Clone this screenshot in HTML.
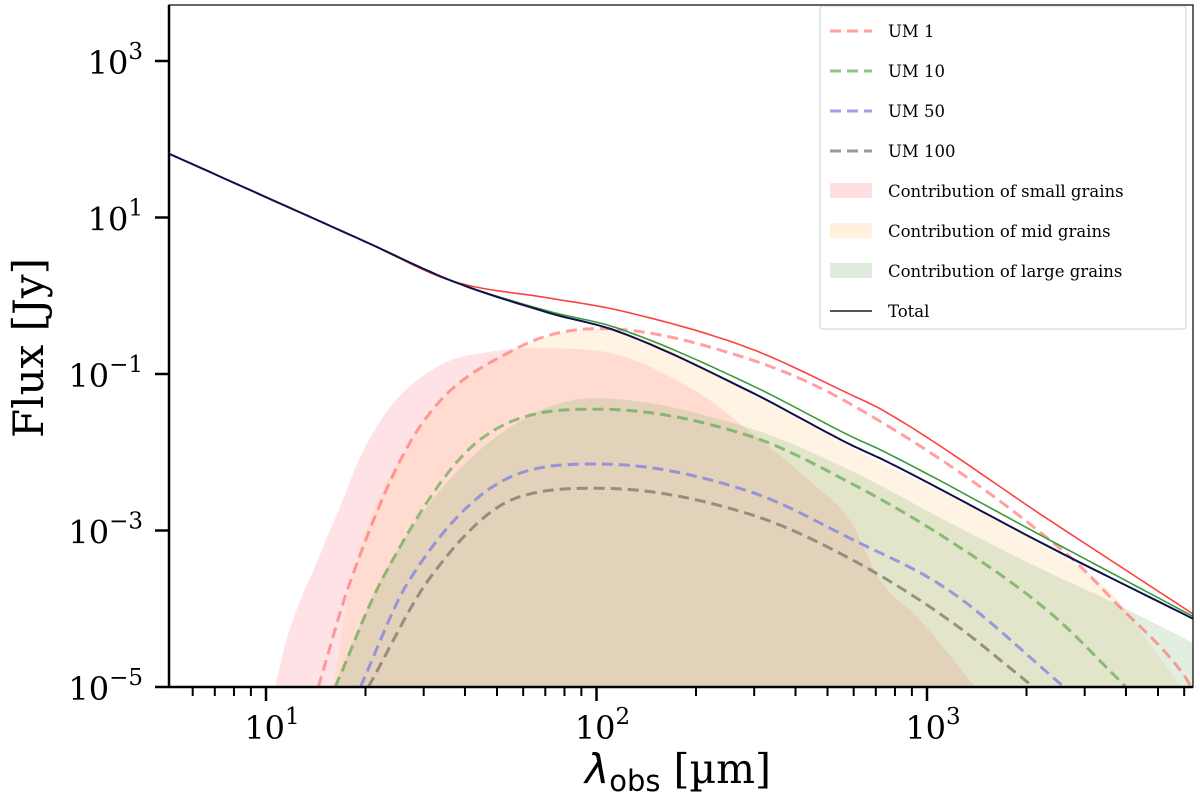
<!DOCTYPE html>
<html><head><meta charset="utf-8">
<style>
html,body{margin:0;padding:0;background:#fff;}
svg{display:block;font-family:"DejaVu Serif","Liberation Serif",serif;}
</style></head>
<body>
<svg id="chart" width="1200" height="802" viewBox="0 0 1200 802" xmlns="http://www.w3.org/2000/svg">
<defs><clipPath id="clip"><rect x="169" y="5" width="1024" height="682"/></clipPath></defs>
<g id="fills" clip-path="url(#clip)"></g>
<g id="lines" clip-path="url(#clip)"></g>
<g id="axes"></g>
<g id="legend"></g>
</svg>
<script>
// wavelengths (µm) and log10 flux (Jy)
const totalLam = [5, 10, 20, 36.5, 72, 115, 290, 585, 740, 2370, 6400];
const totalUM100 = [1.83, 1.26, 0.69, 0.19, -0.22, -0.45, -1.22, -1.90, -2.10, -3.22, -4.13];
const totalUM1 = [1.83, 1.26, 0.69, 0.19, -0.03, -0.18, -0.67, -1.26, -1.47, -2.88, -4.07];
const totalUM10 = [1.83, 1.26, 0.69, 0.19, -0.20, -0.41, -1.13, -1.79, -1.99, -3.13, -4.10];

const um1Lam = [14.4, 18, 28.6, 57.5, 102, 290, 585, 2630, 3740, 5950, 6300];
const um1Val = [-5, -3.65, -1.73, -0.67, -0.42, -0.81, -1.38, -3.29, -3.93, -4.83, -5];
const um10Lam = [16.2, 22.6, 45, 102, 290, 585, 1170, 2370, 4000];
const um10Val = [-5, -3.6, -1.82, -1.45, -1.79, -2.39, -3.13, -4.06, -5];
const um50Lam = [19.3, 27, 57.5, 102, 290, 585, 1170, 2600];
const um50Val = [-5, -3.65, -2.28, -2.15, -2.5, -3.1, -3.77, -5];
const um100Lam = [20.4, 31.4, 57.5, 102, 290, 585, 1170, 2100];
const um100Val = [-5, -3.6, -2.58, -2.46, -2.79, -3.36, -4.15, -5];

const smallLam = [10.65, 11.6, 14.6, 16.7, 19.5, 24.2, 34.3, 48.7, 64, 100, 200, 290, 450, 585, 720, 950, 1400];
const smallVal = [-5, -4.36, -3.3, -2.71, -2.02, -1.38, -0.87, -0.71, -0.67, -0.7, -1.22, -1.73, -2.4, -2.87, -3.63, -4.14, -5];
const midLam = [16, 18, 28.6, 57.5, 102, 150, 290, 585, 2370, 3580, 5000, 6400];
const midVal = [-5, -3.7, -1.75, -0.68, -0.42, -0.6, -1.24, -1.93, -3.25, -3.78, -4.6, -5.2];
const largeLam = [16, 23.7, 45, 98, 290, 585, 1170, 2370, 3580, 6400];
const largeVal = [-5, -3.41, -1.95, -1.31, -1.69, -2.23, -2.9, -3.55, -3.9, -4.44];

const yTicks = [3, 1, -1, -3, -5];
const xTicks = [1, 2, 3];

const NS = "http://www.w3.org/2000/svg";
const X0 = 169, X1 = 1193, Y0 = 687, Y1 = 5;
const LX0 = 1 - 97 / 330.5, LX1 = 3 + 266 / 330.5;
const LY0 = -5, LY1 = 3 + 56 / 78.25;
function sx(l){ return X0 + (Math.log10(l) - LX0) / (LX1 - LX0) * (X1 - X0); }
function sxl(lg){ return X0 + (lg - LX0) / (LX1 - LX0) * (X1 - X0); }
function sy(v){ return Y0 - (v - LY0) / (LY1 - LY0) * (Y0 - Y1); }

// monotone cubic (Fritsch-Carlson) sampled path
function monoPts(xs, ys){
  const n = xs.length, d = [], m = [];
  for (let i = 0; i < n-1; i++) d.push((ys[i+1]-ys[i])/(xs[i+1]-xs[i]));
  m[0] = d[0]; m[n-1] = d[n-2];
  for (let i = 1; i < n-1; i++) m[i] = (d[i-1]*d[i] <= 0) ? 0 : (d[i-1]+d[i])/2;
  for (let i = 0; i < n-1; i++){
    if (d[i] === 0){ m[i]=0; m[i+1]=0; continue; }
    const a = m[i]/d[i], b = m[i+1]/d[i], s = a*a+b*b;
    if (s > 9){ const t = 3/Math.sqrt(s); m[i]=t*a*d[i]; m[i+1]=t*b*d[i]; }
  }
  const out = [];
  for (let i = 0; i < n-1; i++){
    const h = xs[i+1]-xs[i];
    for (let k = 0; k < 12; k++){
      const t = k/12, t2=t*t, t3=t2*t;
      const y = (2*t3-3*t2+1)*ys[i] + (t3-2*t2+t)*h*m[i] + (-2*t3+3*t2)*ys[i+1] + (t3-t2)*h*m[i+1];
      out.push([xs[i]+t*h, y]);
    }
  }
  out.push([xs[n-1], ys[n-1]]);
  return out;
}
function pathD(lams, vals){
  const p = monoPts(lams.map(sx), vals.map(sy));
  return {d: "M" + p.map(q=>q[0].toFixed(1)+","+q[1].toFixed(1)).join("L"), p: p};
}

const fills = document.getElementById("fills");
function addFill(lams, vals, color, name){
  const r = pathD(lams, vals);
  const p = r.p;
  const d = r.d + "L" + p[p.length-1][0].toFixed(1) + "," + (Y0+20) + "L" + p[0][0].toFixed(1) + "," + (Y0+20) + "Z";
  const el = document.createElementNS(NS, "path");
  el.setAttribute("d", d);
  el.setAttribute("fill", color);
  
  
  fills.appendChild(el);
}
addFill(smallLam, smallVal, "rgba(255,140,150,0.25)", "small-grains-fill");
addFill(midLam, midVal, "rgba(255,200,120,0.2)", "mid-grains-fill");
addFill(largeLam, largeVal, "rgba(110,170,100,0.2)", "large-grains-fill");

const lines = document.getElementById("lines");
function addLine(lams, vals, color, width, dash, name){
  const el = document.createElementNS(NS, "path");
  el.setAttribute("d", pathD(lams, vals).d);
  el.setAttribute("fill", "none");
  el.setAttribute("stroke", color);
  el.setAttribute("stroke-width", width);
  el.setAttribute("stroke-linejoin", "round");
  if (dash) el.setAttribute("stroke-dasharray", dash);
  
  
  lines.appendChild(el);
}
addLine(um1Lam, um1Val, "rgba(255,110,110,0.65)", 3, "11,6", "um1-dashed");
addLine(um10Lam, um10Val, "rgba(100,170,80,0.7)", 3, "11,6", "um10-dashed");
addLine(um50Lam, um50Val, "rgba(120,120,230,0.7)", 3, "11,6", "um50-dashed");
addLine(um100Lam, um100Val, "rgba(120,110,100,0.7)", 3, "11,6", "um100-dashed");
addLine(totalLam, totalUM1, "#ff4040", 1.6, null, "total-um1");
addLine(totalLam, totalUM10, "#3a9a3a", 1.6, null, "total-um10");
addLine(totalLam, totalUM100, "#10104a", 2, null, "total-um100");

const axes = document.getElementById("axes");
function mk(tag, attrs, name, text){
  const el = document.createElementNS(NS, tag);
  for (const k in attrs) el.setAttribute(k, attrs[k]);
  
  
  if (text !== undefined) el.innerHTML = text;
  axes.appendChild(el);
  return el;
}
mk("rect", {x:X0, y:Y1, width:X1-X0, height:Y0-Y1, fill:"none", stroke:"#000", "stroke-width":1.2}, "plot-frame");
mk("line", {x1:X0, y1:Y0, x2:X1, y2:Y0, stroke:"#000", "stroke-width":2.5}, "x-axis-line");
mk("line", {x1:X0, y1:Y1, x2:X0, y2:Y0, stroke:"#000", "stroke-width":2.5}, "y-axis-line");
yTicks.forEach(t=>{
  const y = sy(t);
  mk("line", {x1:X0-14, y1:y, x2:X0, y2:y, stroke:"#000", "stroke-width":2.5}, "y-tick");
  mk("text", {x:X0-26, y:y+13, "text-anchor":"end", "font-size":32}, "y-tick-label", "10<tspan dy='-15' font-size='23'>" + (t<0?"−"+(-t):t) + "</tspan>");
});
for (let dec = 0; dec <= 3; dec++){
  for (let m = 1; m <= 9; m++){
    const lg = dec + Math.log10(m);
    if (lg < LX0 - 1e-6 || lg > LX1) continue;
    const x = sxl(lg);
    const major = m === 1;
    mk("line", {x1:x, y1:Y0, x2:x, y2:Y0+(major?14:9), stroke:"#000", "stroke-width":major?2.5:2}, major?"x-tick":"x-minor-tick");
  }
}
xTicks.forEach(t=>{
  mk("text", {x:sxl(t)+6, y:Y0+52, "text-anchor":"middle", "font-size":32}, "x-tick-label", "10<tspan dy='-15' font-size='23'>" + t + "</tspan>");
});
mk("text", {x:43, y:348, "text-anchor":"middle", "font-size":42, transform:"rotate(-90 43 348)"}, "y-axis-title", "Flux [Jy]");
mk("text", {x:678, y:783, "text-anchor":"middle", "font-size":41}, "x-axis-title", "<tspan font-family='DejaVu Sans, sans-serif' font-style='italic'>λ</tspan><tspan dy='8' font-size='29' font-family='DejaVu Sans, sans-serif'>obs</tspan><tspan dy='-8'> [µm]</tspan>");

// legend
const legendLabels = ["UM 1","UM 10","UM 50","UM 100","Contribution of small grains","Contribution of mid grains","Contribution of large grains","Total"];
const leg = document.getElementById("legend");
const box = document.createElementNS(NS, "rect");
box.setAttribute("x", 820); box.setAttribute("y", 6); box.setAttribute("width", 366); box.setAttribute("height", 323);
box.setAttribute("rx", 3); box.setAttribute("fill", "rgba(255,255,255,0.85)"); box.setAttribute("stroke", "#cfcfcf");


leg.appendChild(box);
const handles = [
  {t:"line", c:"rgba(255,110,110,0.65)", d:"11,6"},
  {t:"line", c:"rgba(100,170,80,0.7)", d:"11,6"},
  {t:"line", c:"rgba(120,120,230,0.7)", d:"11,6"},
  {t:"line", c:"rgba(120,110,100,0.7)", d:"11,6"},
  {t:"rect", c:"rgba(255,140,150,0.28)"},
  {t:"rect", c:"rgba(255,200,120,0.25)"},
  {t:"rect", c:"rgba(110,170,100,0.22)"},
  {t:"line", c:"#555", d:null}
];
legendLabels.forEach((lab,i)=>{
  const y = 31 + i * 40;
  const h = handles[i];
  let el;
  if (h.t === "line"){
    el = document.createElementNS(NS, "line");
    el.setAttribute("x1", 830); el.setAttribute("x2", 872); el.setAttribute("y1", y); el.setAttribute("y2", y);
    el.setAttribute("stroke", h.c); el.setAttribute("stroke-width", h.d?3:2);
    if (h.d) el.setAttribute("stroke-dasharray", h.d);
  } else {
    el = document.createElementNS(NS, "rect");
    el.setAttribute("x", 830); el.setAttribute("y", y-8); el.setAttribute("width", 42); el.setAttribute("height", 15);
    el.setAttribute("fill", h.c);
  }
  
  
  leg.appendChild(el);
  const tx = document.createElementNS(NS, "text");
  tx.setAttribute("x", 888); tx.setAttribute("y", y+6); tx.setAttribute("font-size", 16.5);
  tx.textContent = lab;
  
  
  leg.appendChild(tx);
});
</script>
</body></html>
